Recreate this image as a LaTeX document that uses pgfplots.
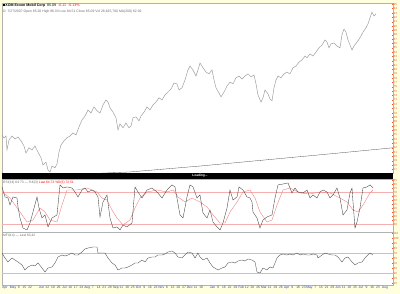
\documentclass[border=0pt]{standalone}
\usepackage{pgfplots}
\pgfplotsset{compat=1.18}
\usepackage{fontspec}
\setmainfont{Liberation Sans}
\definecolor{bgyel}{RGB}{255,255,222}
\definecolor{labred}{RGB}{230,90,50}
\definecolor{rline}{RGB}{245,175,175}
\definecolor{sigred}{RGB}{240,130,130}
\definecolor{monthblue}{RGB}{40,60,200}
\definecolor{daygray}{RGB}{70,70,120}
\definecolor{pricegray}{RGB}{160,160,160}
\begin{document}
\begin{tikzpicture}
\fill[bgyel] (0pt,0pt) rectangle (400pt,294pt);
\pgfplotsset{
  panel/.style={
    scale only axis, width=391pt, anchor=north west,
    xmin=2, xmax=393,
    axis line style={gray!60, line width=0.4pt},
    axis background/.style={fill=white},
    xtick=\empty,
    ytick pos=right, yticklabel pos=right,
    tick style={labred, line width=0.3pt},
    major tick length=1.2pt,
    yticklabel style={font=\fontsize{3}{3}\selectfont, text=labred, inner sep=0.4pt},
    /pgf/number format/assume math mode=true,
  }
}
% ---------- price panel ----------
\begin{axis}[panel, at={(2pt,291pt)}, height=170pt, ymin=56.2, ymax=95.3, ytick={57,58,...,95}]
\addplot[pricegray, line width=0.5pt] coordinates {
(2,64.95) (4,64.26) (6,64.72) (7,61.5) (9,63.8) (12,64.7) (15,64.0) (18,64.5) (21,63.6) (24,62.4)
(26,60.8) (29,62.0) (32,61.5) (35,62.4) (38,61.0) (41,59.7) (43,58.05) (46,58.7) (48,56.9) (50,56.4)
(52,57.8) (55,57.4) (57,58.3) (59,61.0) (61,62.65) (64,63.6) (67,64.3) (70,64.7) (73,65.4) (76,64.95)
(79,66.8) (82,68.4) (85,69.3) (88,70.7) (91,70.0) (94,71.4) (97,70.5) (100,70.0) (103,71.85) (106,73.0)
(108,72.5) (110,71.2) (113,70.2) (116,68.9) (118,66.1) (120,67.5) (123,66.6) (126,67.7) (129,66.6) (131,67.0)
(133,68.9) (136,69.1) (139,68.2) (141,69.3) (144,70.2) (147,71.4) (150,70.7) (153,71.85) (156,72.5) (159,73.5)
(162,73.0) (165,74.15) (168,74.8) (171,75.5) (174,76.9) (177,76.7) (179,75.3) (182,75.8) (185,77.6) (188,79.9)
(190,80.8) (193,79.9) (196,78.5) (198,79.9) (200,81.5) (203,80.4) (206,79.4) (209,79.0) (212,79.9) (214,77.6)
(216,75.8) (219,74.6) (221,73.7) (224,74.8) (227,76.2) (230,77.1) (233,76.7) (236,78.1) (239,78.5) (242,77.8)
(245,78.5) (248,79.0) (251,78.3) (254,78.75) (256,76.7) (258,74.15) (261,72.5) (263,73.5) (265,75.3) (268,74.4)
(270,73.2) (272,72.8) (274,75.8) (276,77.6) (278,78.5) (281,78.1) (284,79.0) (287,79.4) (290,79.0) (293,80.4)
(296,80.8) (299,81.7) (302,82.2) (305,83.1) (307,82.7) (310,83.6) (313,83.1) (316,84.0) (319,85.0) (322,85.65)
(325,86.8) (327,86.3) (329,85.0) (331,85.9) (334,86.1) (337,85.4) (340,85.0) (342,88.0) (344,89.3) (346,88.6)
(348,86.8) (350,85.65) (352,84.5) (354,85.4) (357,86.3) (360,87.3) (363,88.6) (366,89.6) (368,90.5) (370,91.9)
(372,93.2) (374,92.3) (376,92.8)};
\addplot[black!70, line width=0.3pt] coordinates {(60,55.3) (95,56.1) (130,56.44) (200,57.8) (265,59.2) (330,60.6) (393,62.0)};
\end{axis}
\node[anchor=north west, inner sep=0pt, font=\fontsize{3.6}{4}\selectfont] at (3pt,290.5pt)
  {\textbf{\rule{2.2pt}{2.2pt}XOM Exxon Mobil Corp}\ \ 85.09\ \ \textcolor{red}{-0.11\ \ -0.13\%}};
\node[anchor=north west, inner sep=0pt, font=\fontsize{3.4}{4}\selectfont, text=gray!85!black] at (3pt,284pt)
  {D: 7/27/2007 Open 85.20 High 86.33 Low 84.51 Close 85.09 Vol 28,625,700 MA(200) 62.02};
% ---------- black separator ----------
\fill[black] (2pt,115pt) rectangle (393pt,121pt);
\node[white, inner sep=0pt, font=\fontsize{3.2}{4}\bfseries] at (200pt,118pt) {Loading...};
% ---------- RSI panel ----------
\begin{axis}[panel, at={(2pt,115pt)}, height=53pt, ymin=20, ymax=86.25, ytick={30,35,...,85}]
\addplot[rline, line width=0.5pt] coordinates {(2,70) (393,70)};
\addplot[rline, line width=0.5pt] coordinates {(2,30) (393,30)};
\addplot[sigred, line width=0.4pt] coordinates {
(2,70) (10,62.5) (20,45) (27,32.5) (33,35) (40,50) (45,45) (50,35) (57,32.5) (62,53.8) (67,72.5) (77,72.5)
(87,75) (97,70) (102,62.5) (107,60) (112,47.5) (117,37.5) (123,28.8) (130,35) (135,50) (140,62.5) (147,70)
(157,72.5) (167,70) (173,72.5) (178,63.8) (185,57.5) (192,62.5) (200,57.5) (207,51.3) (213,41.3) (220,31.3)
(225,31.3) (230,45) (237,57.5) (243,70) (250,72.5) (255,62.5) (260,45) (267,32.5) (272,35) (277,53.8)
(283,72.5) (290,75) (300,68.8) (310,67.5) (320,70) (330,68.8) (340,62.5) (347,57.5) (353,47.5) (358,45)
(363,53.8) (370,68.8) (373,72.5)};
\addplot[black!75, line width=0.35pt] coordinates {
(2,76.3) (5,63.8) (8,62.5) (10,53.8) (13,63.8) (17,62.5) (18,51.3) (20,37.5) (23,25) (27,22.5) (30,31.3)
(33,45) (37,63.8) (39,50) (42,37.5) (45,41.3) (48,26.3) (52,37.5) (57,41.3) (60,78.8) (63,75) (67,76.3)
(72,75) (75,70) (78,63.8) (82,72.5) (85,75) (88,70) (92,72.5) (95,70) (98,63.8) (100,38.8) (103,57.5)
(107,66.3) (110,37.5) (113,25) (117,26.3) (120,22.5) (123,28.8) (127,26.3) (132,31.3) (135,76.3) (138,70)
(142,62.5) (147,72.5) (152,75) (157,70) (162,62.5) (167,72.5) (172,78.8) (175,76.3) (180,41.3) (183,37.5)
(187,63.8) (190,78.8) (193,76.3) (197,62.5) (200,66.3) (203,43.8) (207,37.5) (210,47.5) (213,32.5) (217,26.3)
(220,22.5) (223,31.3) (227,50) (230,72.5) (233,60) (237,63.8) (239,76.3) (243,72.5) (247,63.8) (250,62.5)
(252,57.5) (253,45) (257,37.5) (260,25) (263,35) (267,38.8) (272,41.3) (275,62.5) (278,78.8) (283,80)
(288,81.3) (292,68.8) (295,75) (298,70) (303,68.8) (307,72.5) (310,62.5) (313,66.3) (317,62.5) (320,70)
(323,72.5) (327,70) (330,62.5) (333,66.3) (337,75) (340,62.5) (343,41.3) (347,47.5) (350,68.8) (352,75)
(353,57.5) (355,25) (357,32.5) (360,50) (363,75) (367,76.3) (370,78.8) (373,75)};
\end{axis}
\node[anchor=north west, inner sep=0pt, font=\fontsize{3.3}{4}\selectfont, text=gray!85!black] at (3pt,113.5pt)
  {RSI(14) 64.73 --- \%K(3) \textcolor{red}{Last 64.73 \%D(3) 72.51}};
% ---------- MFI panel ----------
\begin{axis}[panel, at={(2pt,62pt)}, height=53pt, ymin=6, ymax=112, ytick={10,20,...,110},
  xtick={5,13.1,18.8,24.5,30.2,41.6,47.3,53,58.7,64.4,70.1,75.8,81.5,87.2,92.9,98.6,104.3,110,115.7,121.4,127.1,132.8,138.5,144.2,149.9,155.6,161.3,167,172.7,178.4,184.1,189.8,195.5,201.2,212.6,218.3,224,229.7,235.4,241.1,246.8,252.5,258.2,263.9,269.6,275.3,281,286.7,292.4,298.1,303.8,309.5,315.2,320.9,326.6,332.3,338,343.7,349.4,355.1,360.8,366.5,372.2,377.9,385},
  xticklabels={{\color{monthblue}Apr},{\color{monthblue}May},8,15,22,{\color{monthblue}Jun},12,19,26,{\color{monthblue}Jul},10,17,24,{\color{monthblue}Aug},7,14,21,28,{\color{monthblue}Sep},11,18,25,{\color{monthblue}Oct},9,16,23,{\color{monthblue}Nov},6,13,20,27,{\color{monthblue}Dec},11,18,{\color{monthblue}Jan},8,16,22,29,{\color{monthblue}Feb},12,20,26,{\color{monthblue}Mar},12,19,26,{\color{monthblue}Apr},9,16,23,{\color{monthblue}May},7,14,21,29,{\color{monthblue}Jun},11,18,25,{\color{monthblue}Jul},9,16,23,{\color{monthblue}Aug}},
  xtick pos=bottom, x tick style={draw=none},
  xticklabel style={font=\fontsize{3.3}{3.5}\selectfont, text=daygray, inner sep=0.6pt, yshift=-0.6pt}]
\addplot[rline, line width=0.5pt] coordinates {(2,70) (393,70)};
\addplot[rline, line width=0.5pt] coordinates {(2,30) (393,30)};
\addplot[black!70, line width=0.35pt] coordinates {
(2,70) (5,60) (8,52) (12,60) (15,56) (18,52) (22,46) (25,36) (28,42) (32,46) (35,44) (38,50) (42,40) (45,32)
(48,40) (52,42) (55,50) (58,62) (62,66) (65,64) (68,66) (72,70) (75,66) (78,66) (82,72) (85,78) (88,80) (93,82)
(97,82) (98,70) (102,70) (105,70) (108,60) (112,50) (115,46) (118,36) (122,40) (125,40) (128,42) (132,46)
(135,50) (138,50) (142,56) (145,52) (148,60) (152,62) (155,62) (158,66) (162,66) (165,68) (168,72) (172,74)
(175,70) (178,62) (182,60) (185,66) (188,72) (192,70) (195,60) (198,70) (200,62) (203,56) (207,60) (210,50)
(213,42) (218,36) (222,40) (225,42) (228,50) (232,52) (235,50) (238,54) (242,56) (245,54) (248,58) (252,56)
(255,52) (257,32) (260,30) (263,40) (267,36) (270,42) (273,40) (277,60) (280,66) (283,68) (287,66) (290,68)
(293,66) (297,70) (300,66) (303,68) (307,66) (310,66) (313,68) (317,66) (318,60) (322,66) (325,70) (328,68)
(332,66) (335,66) (338,62) (342,52) (345,60) (348,62) (352,52) (355,46) (358,50) (362,52) (365,60) (368,66)
(370,70) (373,66)};
\end{axis}
\node[anchor=north west, inner sep=0pt, font=\fontsize{3.3}{4}\selectfont, text=gray!85!black] at (3pt,60.5pt)
  {MFI(14) --- Last 63.42};
\end{tikzpicture}
\end{document}
